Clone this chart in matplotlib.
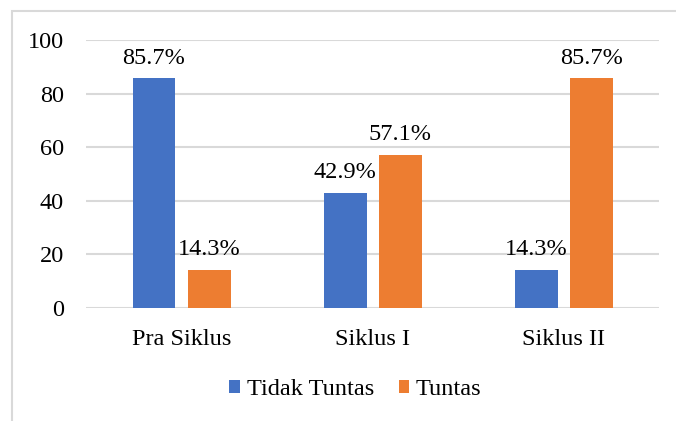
import numpy as np
import matplotlib.pyplot as plt
from matplotlib.patches import Rectangle

# data
categories = ['Pra Siklus', 'Siklus I', 'Siklus II']
tidak_tuntas = [85.7, 42.9, 14.3]
tuntas = [14.3, 57.1, 85.7]
series_names = ['Tidak Tuntas', 'Tuntas']

plt.rcParams['font.family'] = ['Liberation Serif', 'DejaVu Serif']
fs = 17.5

fig = plt.figure(figsize=(6.76, 4.21), dpi=100)
ax = fig.add_axes([0.1272, 0.2684, 0.8478, 0.6366])

# chart border
fig.patches.append(Rectangle((12 / 676, -0.1), 1.2, 1 - 11 / 421 + 0.1,
                             transform=fig.transFigure, fill=False,
                             edgecolor='#D9D9D9', linewidth=1.5))

x = np.arange(len(categories))
w = 0.225
off = 0.144
b1 = ax.bar(x - off, tidak_tuntas, w, color='#4472C4', label=series_names[0], zorder=3)
b2 = ax.bar(x + off, tuntas, w, color='#ED7D31', label=series_names[1], zorder=3)

ax.bar_label(b1, labels=[f'{v:.1f}%' for v in tidak_tuntas], padding=7, fontsize=fs)
ax.bar_label(b2, labels=[f'{v:.1f}%' for v in tuntas], padding=7, fontsize=fs)

ax.set_xlim(-0.5, 2.5)
ax.set_ylim(0, 100)
ax.set_yticks(range(0, 101, 20))
ax.set_xticks(x)
ax.set_xticklabels(categories)
ax.tick_params(axis='both', length=0, labelsize=fs)
ax.tick_params(axis='y', pad=16)
ax.tick_params(axis='x', pad=15)
ax.grid(axis='y', color='#D9D9D9', linewidth=1.5, zorder=0)
for s in ax.spines.values():
    s.set_visible(False)

fig.legend(loc='center', bbox_to_anchor=(0.526, 0.074), ncol=2, frameon=False,
           fontsize=fs, handlelength=0.42, handleheight=0.42,
           handletextpad=0.3, columnspacing=1.0)

fig.savefig('out.png', dpi=100)
